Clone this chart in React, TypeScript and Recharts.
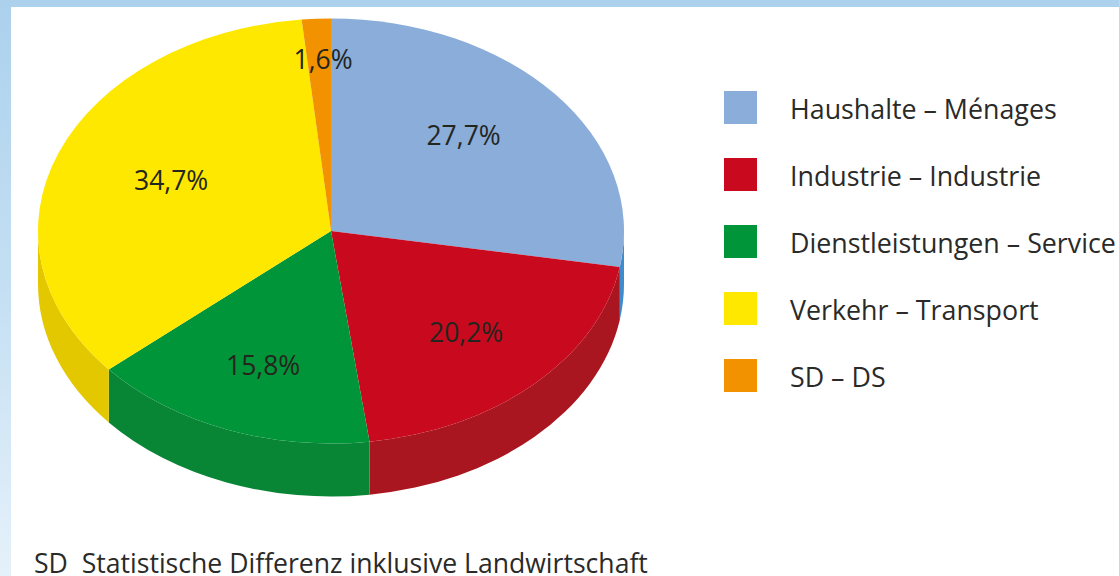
import React from "react";
import { PieChart, Pie, Cell } from "recharts";

const categories = ["Haushalte – Ménages", "Industrie – Industrie", "Dienstleistungen – Service", "Verkehr – Transport", "SD – DS"];
const shares = [27.7, 20.2, 15.8, 34.7, 1.6];
const shareLabels = ["27,7%", "20,2%", "15,8%", "34,7%", "1,6%"];
const topColors = ["#8aadd9", "#c9091e", "#009539", "#ffe800", "#f39200"];
const wallColors = ["#3f8bcb", "#a9161f", "#088535", "#e3c800", "#d98200"];
const labelNudge = [[-13, -7], [3, 2], [0, 5], [17, 0], [12, 0]];
const footnote = "SD  Statistische Differenz inklusive Landwirtschaft";

const data = categories.map((name, i) => ({ name, value: shares[i], idx: i }));

const FONT = "'Open Sans', 'Noto Sans', sans-serif";
const CX = 331;
const CY = 231;
const RX = 293;
const RY = 212.5;
const DEPTH = 53;
const RAD = Math.PI / 180;

const px = (deg: number) => CX + RX * Math.cos(deg * RAD);
const py = (deg: number, dy = 0) => CY - RY * Math.sin(deg * RAD) + dy;

function EllipseSector(props: any) {
  const { startAngle, endAngle, fill } = props;
  const idx = props.idx ?? props.payload?.idx ?? 0;
  const a0 = Math.max(startAngle, endAngle);
  const a1 = Math.min(startAngle, endAngle);
  const large = a0 - a1 > 180 ? 1 : 0;
  const top = `M${CX},${CY} L${px(a0)},${py(a0)} A${RX},${RY} 0 ${large} 1 ${px(a1)},${py(a1)} Z`;
  // wall: visible part of the rim is where the sine is negative (front half)
  const walls: string[] = [];
  const ranges: [number, number][] = [[-180, 0], [-540, -360], [180, 360]];
  for (const [lo, hi] of ranges) {
    const w0 = Math.min(a0, hi);
    const w1 = Math.max(a1, lo);
    if (w0 > w1) {
      walls.push(
        `M${px(w0)},${py(w0)} A${RX},${RY} 0 0 1 ${px(w1)},${py(w1)} L${px(w1)},${py(w1, DEPTH)} A${RX},${RY} 0 0 0 ${px(w0)},${py(w0, DEPTH)} Z`
      );
    }
  }
  return (
    <g>
      {walls.map((d, i) => (
        <path key={i} d={d} fill={wallColors[idx]} />
      ))}
      <path d={top} fill={fill} />
    </g>
  );
}

function sliceLabel(props: any) {
  const { midAngle, index } = props;
  const f = index === 4 ? 0.81 : 0.65;
  const x = CX + RX * f * Math.cos(midAngle * RAD) + labelNudge[index][0];
  const y = CY - RY * f * Math.sin(midAngle * RAD) + labelNudge[index][1];
  return (
    <text x={index === 4 ? x - 8 : x} y={y} textAnchor="middle" dominantBaseline="central" fontFamily={FONT} fontSize={26.5} fill="#23261f">
      {shareLabels[index]}
    </text>
  );
}

export default function App() {
  return (
    <div
      style={{
        position: "fixed",
        left: 0,
        top: 0,
        width: 1119,
        height: 576,
        overflow: "hidden",
        background: "linear-gradient(180deg, #acd1ed 0%, #c4dff3 50%, #e5f1fa 100%)",
      }}
    >
      <div style={{ position: "absolute", left: 11, top: 7, width: 1108, height: 569, background: "#fff" }} />
      <div style={{ position: "absolute", left: 0, top: 0 }}>
        <PieChart width={700} height={520} margin={{ top: 0, right: 0, bottom: 0, left: 0 }}>
          <Pie
            data={data}
            dataKey="value"
            nameKey="name"
            cx={CX}
            cy={CY}
            outerRadius={RY}
            startAngle={90}
            endAngle={-270}
            paddingAngle={0}
            stroke="none"
            shape={EllipseSector}
            label={sliceLabel}
            labelLine={false}
            isAnimationActive={false}
          >
            {data.map((d, i) => (
              <Cell key={d.name} fill={topColors[i]} />
            ))}
          </Pie>
        </PieChart>
      </div>
      {categories.map((c, i) => (
        <React.Fragment key={c}>
          <div style={{ position: "absolute", left: 724, top: 91 + i * 67, width: 33, height: 33, background: topColors[i] }} />
          <div
            style={{
              position: "absolute",
              left: 790,
              top: 92 + i * 67,
              height: 33,
              lineHeight: "33px",
              fontFamily: FONT,
              fontSize: 26.8,
              color: "#2a2a28",
              whiteSpace: "nowrap",
            }}
          >
            {c}
          </div>
        </React.Fragment>
      ))}
      <div
        style={{
          position: "absolute",
          left: 34,
          top: 550,
          height: 26,
          lineHeight: "26px",
          fontFamily: FONT,
          fontSize: 26.6,
          color: "#2a2a28",
          whiteSpace: "pre",
        }}
      >
        {footnote}
      </div>
    </div>
  );
}
